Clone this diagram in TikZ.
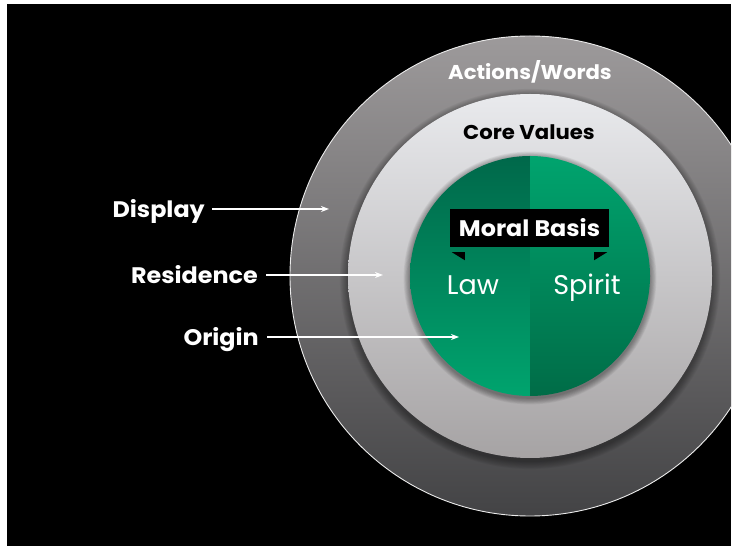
\documentclass[tikz,border=0pt]{standalone}
\usepackage{fontspec}
\setmainfont{Poppins}
\newfontfamily\labfont[FakeStretch=1.06]{Poppins}
\usetikzlibrary{arrows.meta}
\definecolor{ringtop}{HTML}{9D9A9B}
\definecolor{ringbot}{HTML}{434345}
\definecolor{midtop}{HTML}{E9EAED}
\definecolor{midbot}{HTML}{A6A3A4}
\definecolor{gdark}{HTML}{00684A}
\definecolor{glight}{HTML}{00A46E}
\definecolor{gdarkb}{HTML}{006C47}
\begin{document}
\begin{tikzpicture}[x=1pt,y=1pt,
  lab/.style={font=\labfont\fontsize{22.5}{25}\selectfont\bfseries, inner sep=0pt},
  ringlab/.style={font=\labfont\fontsize{20}{23}\selectfont\bfseries, inner sep=0pt},
  big/.style={font=\fontsize{27}{30}\selectfont, inner sep=0pt, text=white},
  arr/.style={white, line width=1.5pt, -{Stealth[length=8pt,width=6pt]}}]
\useasboundingbox (0,0) rectangle (739,546);
\fill[white] (0,0) rectangle (739,546);
\fill[black] (7,0) rectangle (731,542);
\begin{scope}
\clip (7,0) rectangle (731,542);
\shade[top color=ringtop,bottom color=ringbot] (530,270) circle (240);
\draw[white!85!gray, line width=0.9pt] (530,270) circle (240);
\foreach \i in {1,...,9} \fill[black,opacity=0.045] (530,267) circle ({182+\i*0.9});
\shade[top color=midtop,bottom color=midbot] (530,270) circle (182);
\foreach \i in {1,...,8} \fill[black,opacity=0.05] (530,268) circle ({120+\i*0.8});
\shade[top color=gdark,bottom color=glight] (530,390) arc (90:270:120) -- cycle;
\shade[top color=glight,bottom color=gdarkb] (530,390) arc (90:-90:120) -- cycle;
\end{scope}
\node[ringlab, text=white] (aw) at (530,474) {Actions/Words};
\node[ringlab, text=black] (cv) at (529,414) {Core Values};
\node[lab, text=white, fill=black, minimum width=159pt, minimum height=38pt] (mb) at (529.5,318) {Moral Basis};
\fill[black] ([shift={(2,-5)}]mb.south west) -- ++(13,0) -- ++(0,-8) -- cycle;
\fill[black] ([shift={(-2,-5)}]mb.south east) -- ++(-13,0) -- ++(0,-8) -- cycle;
\node[big, anchor=base] (law) at (473,251) {Law};
\node[big, anchor=base] (spirit) at (587,251) {Spirit};
\node[lab, text=white, anchor=base east] (disp) at (205,328) {Display};
\node[lab, text=white, anchor=base east] (res) at (258,262) {Residence};
\node[lab, text=white, anchor=base east] (orig) at (259,200) {Origin};
\coordinate (dispend) at (329,337);
\coordinate (resend) at (383,271);
\coordinate (origend) at (459,209);
\draw[arr] ([shift={(7,9)}]disp.base east) -- (dispend);
\draw[arr] ([shift={(8,9)}]res.base east) -- (resend);
\draw[arr] ([shift={(8,9)}]orig.base east) -- (origend);
\end{tikzpicture}
\end{document}
